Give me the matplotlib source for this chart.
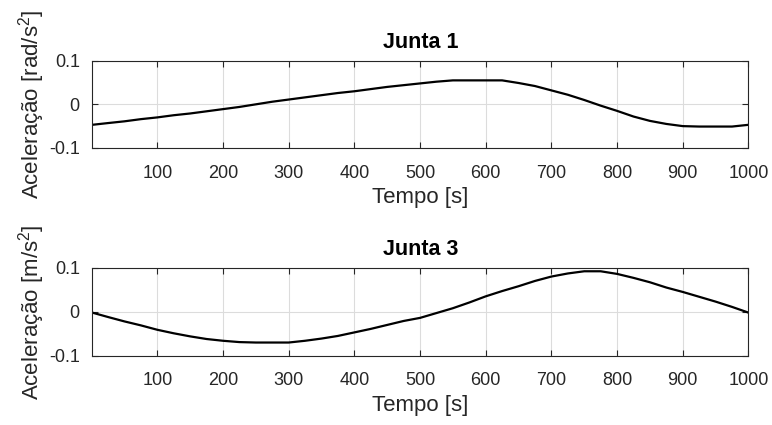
import matplotlib
matplotlib.use('Agg')
import matplotlib.pyplot as plt

plt.rcParams['font.family'] = ['Liberation Sans', 'DejaVu Sans']
plt.rcParams['mathtext.fontset'] = 'custom'
plt.rcParams['mathtext.rm'] = 'Liberation Sans'
plt.rcParams['mathtext.it'] = 'Liberation Sans'

# sample times [s]
tempo = [1, 25, 50, 75, 100, 125, 150, 175, 200, 225, 250, 275, 300, 325, 350, 375, 400,
         425, 450, 475, 500, 525, 550, 575, 600, 625, 650, 675, 700, 725, 750, 775, 800,
         825, 850, 875, 900, 925, 950, 975, 1000]

# acceleration of joint 1 [rad/s^2]
acel_junta1 = [-0.047, -0.043, -0.039, -0.034, -0.030, -0.025, -0.021, -0.016, -0.011, -0.006,
               0.000, 0.006, 0.011, 0.016, 0.021, 0.026, 0.030, 0.035, 0.040, 0.044,
               0.048, 0.052, 0.055, 0.055, 0.055, 0.055, 0.049, 0.042, 0.032, 0.022,
               0.010, -0.003, -0.015, -0.028, -0.038, -0.045, -0.050, -0.051, -0.051, -0.051, -0.047]

# acceleration of joint 3 [m/s^2]
acel_junta3 = [-0.002, -0.012, -0.022, -0.031, -0.041, -0.049, -0.056, -0.062, -0.066, -0.069,
               -0.070, -0.070, -0.070, -0.066, -0.061, -0.055, -0.047, -0.039, -0.030, -0.021,
               -0.014, -0.003, 0.008, 0.021, 0.035, 0.047, 0.058, 0.070, 0.080, 0.087,
               0.092, 0.092, 0.086, 0.077, 0.067, 0.055, 0.045, 0.034, 0.023, 0.011, -0.002]

xticks = [100, 200, 300, 400, 500, 600, 700, 800, 900, 1000]
yticks = [-0.1, 0, 0.1]
yticklabels = ['-0.1', '0', '0.1']

paineis = [
    ('Junta 1', acel_junta1, 'Aceleração [rad/s$^{2}$]', [0.1195, 0.652, 0.850, 0.205]),
    ('Junta 3', acel_junta3, 'Aceleração [m/s$^{2}$]', [0.1195, 0.163, 0.850, 0.207]),
]

cinza = '#262626'
fig = plt.figure(figsize=(7.72, 4.25), dpi=100)

for titulo, valores, ylabel, pos in paineis:
    ax = fig.add_axes(pos)
    ax.plot(tempo, valores, color='black', linewidth=1.6)
    ax.set_xlim(tempo[0], tempo[-1])
    ax.set_ylim(-0.1, 0.1)
    ax.set_xticks(xticks)
    ax.set_yticks(yticks)
    ax.set_yticklabels(yticklabels)
    ax.grid(True, color='#dcdcdc', linewidth=0.8)
    ax.set_axisbelow(True)
    ax.tick_params(direction='in', top=True, right=True, length=4, width=0.8,
                   colors=cinza, labelsize=13)
    ax.tick_params(axis='x', pad=12)
    ax.tick_params(axis='y', pad=9)
    for s in ax.spines.values():
        s.set_color(cinza)
        s.set_linewidth(0.8)
    ax.set_title(titulo, fontsize=15.5, fontweight='bold', pad=9)
    ax.set_xlabel('Tempo [s]', fontsize=16, color=cinza, labelpad=4)
    ax.set_ylabel(ylabel, fontsize=16, color=cinza, labelpad=1)

fig.savefig('out.png', dpi=100)
